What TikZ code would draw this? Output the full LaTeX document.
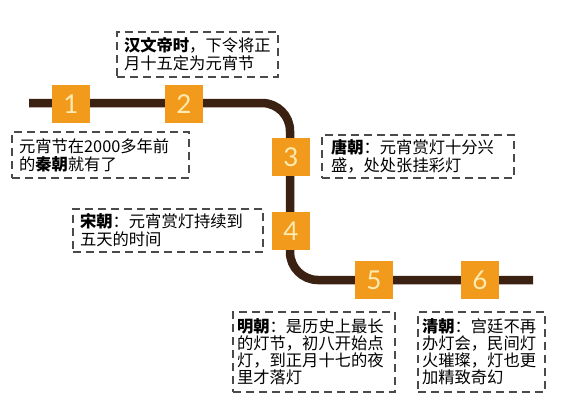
\documentclass[tikz,border=0pt]{standalone}
\usepackage{fontspec}
\setmainfont{Noto Sans CJK SC}
\newfontfamily\numfont{Lato}
\definecolor{trackbrown}{HTML}{3B2112}
\definecolor{boxorange}{HTML}{F29A1C}
\definecolor{numcream}{HTML}{FCEBB0}
\definecolor{dashgray}{HTML}{4A4A4A}
\begin{document}
\begin{tikzpicture}[x=1pt,y=-1pt,
  stop/.style={fill=boxorange,minimum size=38pt,inner sep=0pt,text=numcream,font=\numfont\fontsize{26}{26}\selectfont},
  note/.style={draw=dashgray,line width=1.1pt,dash pattern=on 8pt off 5pt,fill=white,
    inner xsep=7pt,inner ysep=0pt,align=left,text=black,
    font=\fontsize{16.3}{18}\selectfont},
  track/.style={draw=trackbrown,line width=8.5pt,rounded corners=28pt}]
\useasboundingbox[fill=white] (0,0) rectangle (580,408);
\coordinate (tstart) at (29,103);
\coordinate (tc1) at (290,103);
\coordinate (tc2) at (290,280);
\coordinate (tend) at (533,280);
\draw[track] (tstart) -- (tc1) -- (tc2) -- (tend);
\node[stop] (s1) at (71,104) {1};
\node[stop] (s2) at (184,104) {2};
\node[stop] (s3) at (291,157) {3};
\node[stop] (s4) at (291,231) {4};
\node[stop] (s5) at (374,280) {5};
\node[stop] (s6) at (480,280) {6};
\node[note,text width=147pt,minimum height=45pt] (n2) at (197.5,54.5)
  {\textbf{汉文帝时}，下令将正\\月十五定为元宵节};
\node[note,text width=163pt,minimum height=46pt] (n1) at (100.5,155)
  {元宵节在2000多年前\\的\textbf{秦朝}就有了};
\node[note,inner xsep=9pt,text width=174pt,minimum height=43pt] (n3) at (418,156.5)
  {\textbf{唐朝}：元宵赏灯十分兴\\盛，处处张挂彩灯};
\node[note,text width=176pt,minimum height=43pt] (n4) at (168,230.5)
  {\textbf{宋朝}：元宵赏灯持续到\\五天的时间};
\node[note,inner xsep=4pt,text width=154pt,minimum height=80pt,font=\fontsize{16.3}{17}\selectfont] (n5) at (314,352)
  {\textbf{明朝}：是历史上最长\\的灯节，初八开始点\\灯，到正月十七的夜\\里才落灯};
\node[note,inner xsep=4pt,text width=119pt,minimum height=80pt,font=\fontsize{16.3}{17}\selectfont] (n6) at (481.5,352)
  {\textbf{清朝}：宫廷不再\\办灯会，民间灯\\火璀璨，灯也更\\加精致奇幻};
\end{tikzpicture}
\end{document}
